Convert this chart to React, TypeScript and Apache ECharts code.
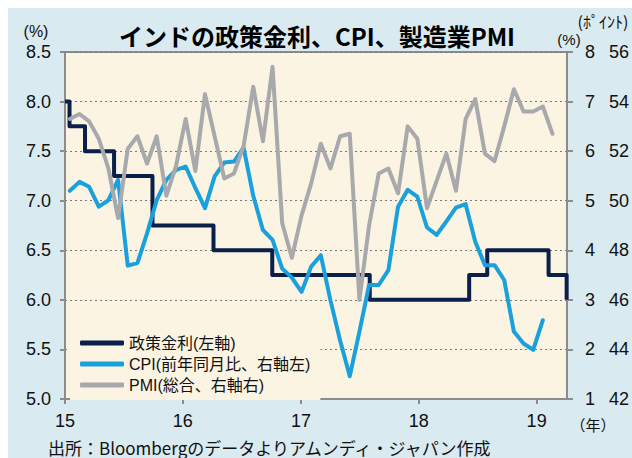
import React, { useEffect, useRef } from "react";
import * as echarts from "echarts";

const FONT = '"Liberation Sans", Arial, "Noto Sans CJK JP", sans-serif';
const JFONT = '"Noto Sans CJK JP", "Liberation Sans", sans-serif';

const TITLE = "インドの政策金利、CPI、製造業PMI";
const SOURCE = "出所：Bloombergのデータよりアムンディ・ジャパン作成";

const seriesNames = ["政策金利(左軸)", "CPI(前年同月比、右軸左)", "PMI(総合、右軸右)"];

// Policy rate change dates and levels (%)
const rateDates = [
  "2015-01-01", "2015-01-15", "2015-03-04", "2015-06-02", "2015-09-29", "2016-04-05",
  "2016-10-04", "2017-08-02", "2018-06-06", "2018-08-01", "2019-02-07", "2019-04-04",
];
const rateValues = [8.0, 7.75, 7.5, 7.25, 6.75, 6.5, 6.25, 6.0, 6.25, 6.5, 6.25, 6.0];
const axisStart = "2015-01-01";
const axisEnd = "2019-04-05";

// Monthly categories
const months = [
  "2015-01", "2015-02", "2015-03", "2015-04", "2015-05", "2015-06", "2015-07", "2015-08", "2015-09", "2015-10", "2015-11", "2015-12",
  "2016-01", "2016-02", "2016-03", "2016-04", "2016-05", "2016-06", "2016-07", "2016-08", "2016-09", "2016-10", "2016-11", "2016-12",
  "2017-01", "2017-02", "2017-03", "2017-04", "2017-05", "2017-06", "2017-07", "2017-08", "2017-09", "2017-10", "2017-11", "2017-12",
  "2018-01", "2018-02", "2018-03", "2018-04", "2018-05", "2018-06", "2018-07", "2018-08", "2018-09", "2018-10", "2018-11", "2018-12",
  "2019-01", "2019-02", "2019-03", "2019-04",
];

// CPI YoY (%)
const cpiValues = [
  5.20, 5.38, 5.28, 4.88, 5.01, 5.42, 3.69, 3.74, 4.34, 5.01, 5.42, 5.62,
  5.69, 5.26, 4.85, 5.49, 5.77, 5.79, 6.07, 5.10, 4.41, 4.21, 3.63, 3.45,
  3.16, 3.67, 3.90, 2.99, 2.18, 1.46, 2.36, 3.30, 3.30, 3.60, 4.88, 5.22,
  5.08, 4.46, 4.31, 4.58, 4.86, 4.93, 4.17, 3.70, 3.70, 3.40, 2.36, 2.12,
  1.99, 2.59,
];

// Composite PMI (points)
const pmiValues = [
  53.3, 53.5, 53.2, 52.5, 51.3, 49.3, 52.1, 52.6, 51.5, 52.6, 50.2, 51.4,
  53.3, 51.2, 54.3, 52.6, 50.9, 51.1, 52.2, 54.6, 52.4, 55.4, 49.1, 47.7,
  49.4, 50.7, 52.3, 51.3, 52.6, 52.7, 46.0, 49.0, 51.1, 51.3, 50.3, 53.0,
  52.5, 49.7, 50.8, 51.9, 50.4, 53.3, 54.1, 51.9, 51.6, 53.0, 54.5, 53.6,
  53.6, 53.8, 52.7,
];

const yearLabels = ["15", "16", "17", "18", "19"];

const day = (s: string) => {
  const [y, m, d] = s.split("-").map(Number);
  const [y0, m0, d0] = axisStart.split("-").map(Number);
  return (Date.UTC(y, m - 1, d) - Date.UTC(y0, m0 - 1, d0)) / 86400000;
};

export default function App() {
  const ref = useRef<HTMLDivElement>(null);
  useEffect(() => {
    const el = ref.current;
    if (!el) return;
    const chart = echarts.init(el, undefined, { renderer: "svg" });
    const yearDays = yearLabels.map((y) => day(`20${y}-01-01`));
    const rateData = rateDates.map((d, i) => [day(d), rateValues[i]]);
    const axisGray = "#8c8c8c";
    const labelStyle = { fontSize: 18, color: "#111", fontFamily: FONT };
    const centered = { align: "center", verticalAlign: "middle", textAlign: "center", textVerticalAlign: "middle" };

    chart.setOption({
      animation: false,
      backgroundColor: "#d9eaf0",
      textStyle: { fontFamily: FONT },
      grid: {
        left: 57, top: 44, width: 502, height: 347,
        show: true, backgroundColor: "#fbf4e2", borderColor: axisGray, borderWidth: 2,
      },
      xAxis: [
        {
          type: "value", min: 0, max: day(axisEnd),
          axisLine: { show: true, lineStyle: { color: axisGray, width: 2 } },
          axisTick: { show: true, customValues: yearDays, length: 5, lineStyle: { color: axisGray, width: 2 } },
          axisLabel: {
            ...labelStyle, margin: 13, customValues: yearDays,
            formatter: (v: number) => {
              const idx = yearDays.findIndex((d) => Math.abs(d - v) < 1);
              return idx >= 0 ? yearLabels[idx] : "";
            },
          },
          splitLine: { show: false },
        },
        { type: "category", data: months, boundaryGap: true, show: false },
      ],
      yAxis: [
        {
          type: "value", min: 5, max: 8.5, interval: 0.5, position: "left",
          axisLine: { show: true, lineStyle: { color: axisGray, width: 2 } },
          axisTick: { show: true, length: 5, lineStyle: { color: axisGray, width: 2 } },
          axisLabel: { ...labelStyle, margin: 14, formatter: (v: number) => v.toFixed(1) },
          splitLine: { show: true, lineStyle: { color: "#7a7a7a", width: 1, type: [2, 3] } },
        },
        {
          type: "value", min: 1, max: 8, interval: 1, position: "right",
          axisLine: { show: true, lineStyle: { color: axisGray, width: 2 } },
          axisTick: { show: true, length: 6, lineStyle: { color: axisGray, width: 2 } },
          axisLabel: { ...labelStyle, margin: 18 },
          splitLine: { show: false },
        },
        {
          type: "value", min: 42, max: 56, interval: 2, position: "right",
          axisLine: { show: false }, axisTick: { show: false },
          axisLabel: { ...labelStyle, margin: 42 },
          splitLine: { show: false },
        },
      ],
      legend: {
        orient: "vertical", left: 62, top: 320, padding: [5, 10, 5, 10],
        backgroundColor: "#fbf4e2",
        itemWidth: 44, itemHeight: 5, itemGap: 1, icon: "roundRect",
        textStyle: { fontSize: 16, lineHeight: 20, color: "#111", fontFamily: FONT },
        data: seriesNames,
      },
      series: [
        {
          name: seriesNames[0], type: "line", xAxisIndex: 0, yAxisIndex: 0,
          step: "end", data: rateData, symbol: "none", showSymbol: false,
          lineStyle: { color: "#0b1f4b", width: 4, join: "round" }, itemStyle: { color: "#0b1f4b" },
        },
        {
          name: seriesNames[1], type: "line", xAxisIndex: 1, yAxisIndex: 1,
          data: cpiValues, symbol: "none", showSymbol: false,
          lineStyle: { color: "#1aa0dc", width: 4, join: "round", cap: "round" }, itemStyle: { color: "#1aa0dc" },
        },
        {
          name: seriesNames[2], type: "line", xAxisIndex: 1, yAxisIndex: 2,
          data: pmiValues, symbol: "none", showSymbol: false,
          lineStyle: { color: "#a8a9ad", width: 4, join: "round", cap: "round" }, itemStyle: { color: "#a8a9ad" },
        },
      ],
      graphic: [
        {
          type: "text", x: 309, y: 27,
          style: { text: TITLE, fontSize: 24, fontWeight: "bold", fontFamily: JFONT, fill: "#000", ...centered },
        },
        {
          type: "text", x: 28, y: 23,
          style: { text: "(%)", fontSize: 16, fontFamily: FONT, fill: "#111", ...centered },
        },
        {
          type: "text", x: 561, y: 31,
          style: { text: "(%)", fontSize: 15, fontFamily: FONT, fill: "#111", ...centered },
        },
        {
          type: "text", x: 595, y: 13,
          style: { text: "(ﾎﾟｲﾝﾄ)", fontSize: 16, fontFamily: JFONT, fill: "#111", ...centered },
        },
        {
          type: "text", x: 585, y: 416,
          style: { text: "（年）", fontSize: 15, fontFamily: JFONT, fill: "#111", ...centered },
        },
        {
          type: "text", x: 40, y: 439,
          style: { text: SOURCE, fontSize: 17, fontFamily: JFONT, fill: "#111", align: "left", verticalAlign: "middle", textAlign: "left", textVerticalAlign: "middle" },
        },
      ],
    });
    return () => chart.dispose();
  }, []);
  return <div ref={ref} style={{ position: "fixed", left: 8, top: 8, width: 624, height: 450 }} />;
}
